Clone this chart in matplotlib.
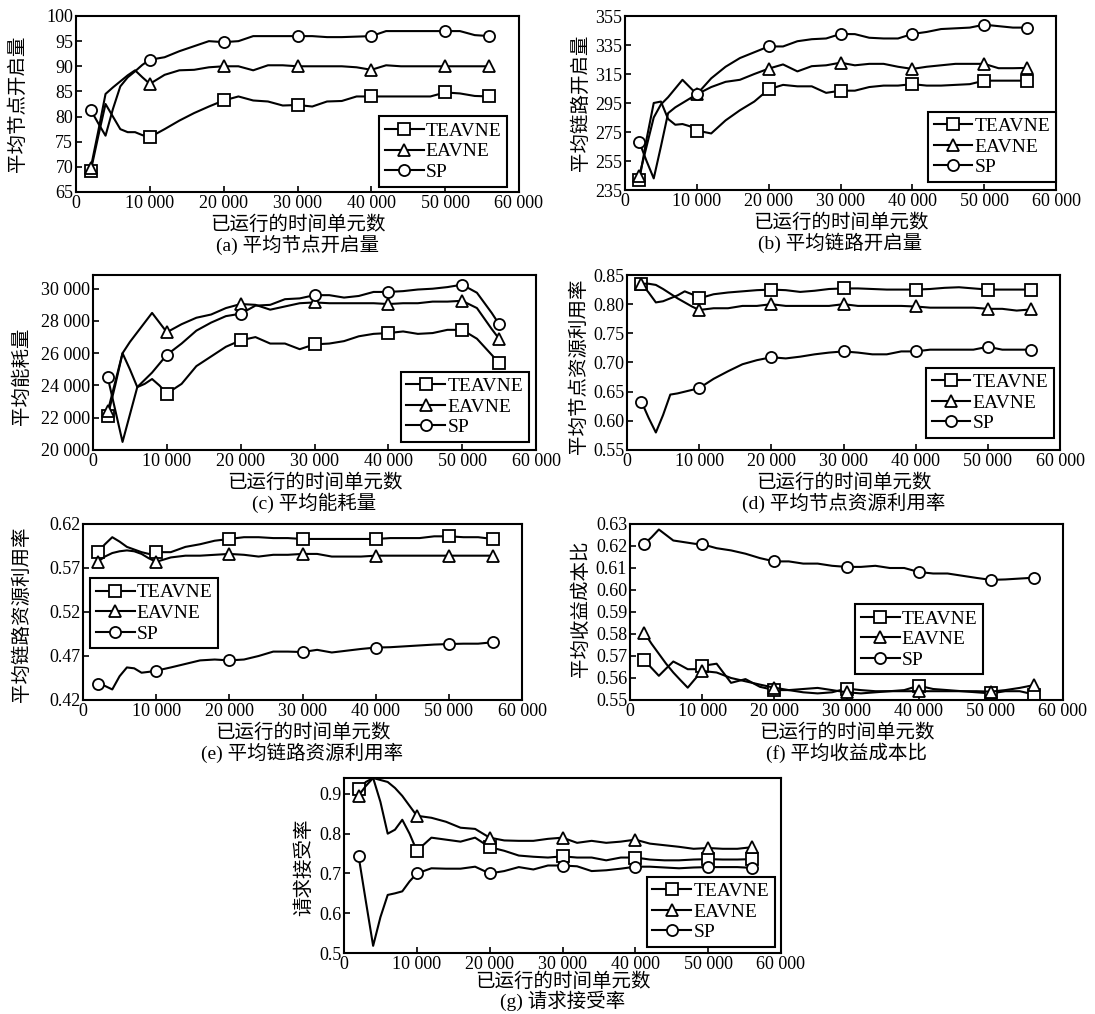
import matplotlib
matplotlib.use("Agg")
import matplotlib.pyplot as plt
from matplotlib.ticker import FuncFormatter

plt.rcParams['font.family'] = ['Liberation Serif', 'Noto Sans CJK SC']
plt.rcParams['axes.unicode_minus'] = False

# 已运行的时间单元数（横轴）
x_run = [2000, 3000, 4000, 5000, 6000, 7000, 8000, 9000, 10000, 12000, 14000, 16000,
         18000, 20000, 22000, 24000, 26000, 28000, 30000, 32000, 34000, 36000, 38000,
         40000, 42000, 44000, 46000, 48000, 50000, 52000, 54000, 56000]
x_run_c = [2000, 3000, 4000, 5000, 6000, 7000, 8000, 9000, 10000, 12000, 14000, 16000,
           18000, 20000, 22000, 24000, 26000, 28000, 30000, 32000, 34000, 36000, 38000,
           40000, 42000, 44000, 46000, 48000, 50000, 52000, 54000, 55000]
mark_idx = [0, 8, 13, 18, 23, 28, 31]
algos = ['TEAVNE', 'EAVNE', 'SP']
x_ticks = [0, 10000, 20000, 30000, 40000, 50000, 60000]

# (a) 平均节点开启量
a_teavne = [69.2, 76, 82.5, 80, 77.5, 76.9, 76.9, 76.3, 75.9, 77.5, 79.2, 80.7, 82, 83.2, 84,
            83.2, 83, 82.2, 82.3, 82, 83, 83.1, 84, 84, 84, 84, 84, 84, 84.8, 84.6, 84.1, 84]
a_eavne = [69.8, 77, 84.5, 85.8, 87, 88.2, 89.2, 87.8, 86.5, 88.3, 89.2, 89.3, 89.8, 90, 90,
           89.2, 90.2, 90.2, 90, 90, 90, 90, 89.8, 89.3, 90.2, 90, 90, 90, 90, 90, 90, 90]
a_sp = [81.3, 78.7, 76.2, 81.5, 86, 87.8, 89, 90.3, 91.3, 91.8, 93, 94, 95, 94.8, 95, 96,
        96, 96, 96, 96, 95.8, 95.8, 95.9, 96, 97, 97, 97, 97, 97, 97, 96.2, 96]

# (b) 平均链路开启量
b_teavne = [242, 270, 295, 296, 284, 280, 280.5, 279, 276, 274, 283, 290, 296, 304.4, 307.5,
            306.5, 306.5, 302, 303.5, 303.5, 306, 307, 307, 308, 307, 307, 307.5, 308, 310.4,
            310.4, 310.4, 310.4]
b_eavne = [245, 265, 285, 294, 299, 305, 311, 306, 301, 306, 309.6, 311, 315, 318.7, 321.6,
           316.8, 320.4, 321, 322.8, 321, 322, 322, 320, 318.5, 320, 321, 322, 322, 322, 319,
           319, 319.2]
b_sp = [268, 255, 243, 265, 288, 292, 295, 298, 301, 312, 320, 326, 330, 334, 334, 337.6,
        339, 339.5, 342.6, 342.5, 340, 339.5, 339.5, 342.6, 344, 346, 346.5, 347, 349, 348,
        347, 347]

# (c) 平均能耗量
c_teavne = [22100, 24000, 26000, 25000, 23900, 24100, 24400, 24000, 23500, 24100, 25200,
            25800, 26400, 26800, 27000, 26600, 26600, 26250, 26550, 26600, 26750, 27050,
            27200, 27250, 27350, 27200, 27250, 27450, 27450, 26900, 25900, 25400]
c_eavne = [22400, 24200, 26000, 26700, 27300, 27900, 28500, 27900, 27300, 27800, 28200,
           28400, 28800, 29050, 29000, 28700, 28900, 29100, 29150, 29100, 29100, 29100,
           29100, 29050, 29100, 29100, 29200, 29200, 29250, 28800, 27500, 26900]
c_sp = [24500, 22500, 20500, 22200, 23900, 24350, 24800, 25350, 25900, 26600, 27400, 27900,
        28300, 28450, 28950, 29000, 29350, 29400, 29600, 29600, 29450, 29550, 29800, 29800,
        29850, 29950, 30000, 30100, 30250, 29750, 28500, 27800]

# (d) 平均节点资源利用率
d_teavne = [0.835, 0.82, 0.803, 0.805, 0.81, 0.815, 0.822, 0.817, 0.81, 0.817, 0.82, 0.822,
            0.824, 0.825, 0.824, 0.821, 0.823, 0.826, 0.827, 0.827, 0.826, 0.825, 0.825,
            0.825, 0.826, 0.828, 0.829, 0.827, 0.825, 0.825, 0.825, 0.825]
d_eavne = [0.835, 0.835, 0.833, 0.826, 0.818, 0.81, 0.803, 0.796, 0.79, 0.793, 0.793, 0.797,
           0.797, 0.80, 0.797, 0.797, 0.797, 0.797, 0.80, 0.797, 0.797, 0.797, 0.797, 0.796,
           0.794, 0.794, 0.794, 0.794, 0.792, 0.792, 0.789, 0.791]
d_sp = [0.633, 0.605, 0.58, 0.61, 0.645, 0.647, 0.65, 0.653, 0.656, 0.672, 0.685, 0.697,
        0.704, 0.709, 0.707, 0.71, 0.714, 0.717, 0.719, 0.717, 0.714, 0.714, 0.719, 0.719,
        0.722, 0.722, 0.722, 0.722, 0.727, 0.722, 0.722, 0.722]

# (e) 平均链路资源利用率
e_teavne = [0.588, 0.597, 0.605, 0.600, 0.594, 0.591, 0.588, 0.586, 0.588, 0.588, 0.594,
            0.597, 0.601, 0.603, 0.605, 0.605, 0.604, 0.604, 0.603, 0.603, 0.603, 0.603,
            0.603, 0.603, 0.604, 0.604, 0.604, 0.606, 0.606, 0.605, 0.605, 0.603]
e_eavne = [0.577, 0.583, 0.587, 0.589, 0.590, 0.589, 0.586, 0.581, 0.577, 0.582, 0.584,
           0.584, 0.585, 0.586, 0.585, 0.583, 0.585, 0.585, 0.586, 0.586, 0.583, 0.583,
           0.583, 0.584, 0.584, 0.584, 0.584, 0.584, 0.584, 0.584, 0.584, 0.584]
e_sp = [0.4387, 0.436, 0.432, 0.447, 0.457, 0.456, 0.451, 0.452, 0.4533, 0.457, 0.461,
        0.465, 0.466, 0.465, 0.466, 0.470, 0.475, 0.475, 0.4745, 0.477, 0.474, 0.476,
        0.478, 0.4796, 0.480, 0.481, 0.482, 0.483, 0.4836, 0.484, 0.484, 0.4856]

# (f) 平均收益成本比
f_teavne = [0.568, 0.5645, 0.561, 0.5643, 0.5675, 0.5658, 0.564, 0.564, 0.5655, 0.5665,
            0.5578, 0.5595, 0.556, 0.5545, 0.5545, 0.5535, 0.553, 0.5535, 0.5552, 0.5545,
            0.554, 0.554, 0.5545, 0.5565, 0.555, 0.5545, 0.554, 0.5535, 0.553, 0.554, 0.554,
            0.5525]
f_eavne = [0.5805, 0.5755, 0.571, 0.5665, 0.5625, 0.559, 0.5556, 0.5595, 0.5632, 0.5625,
           0.560, 0.5585, 0.557, 0.5556, 0.5545, 0.555, 0.5555, 0.5545, 0.5535, 0.553,
           0.5535, 0.554, 0.554, 0.554, 0.554, 0.554, 0.554, 0.554, 0.5538, 0.5545, 0.5555,
           0.5568]
f_sp = [0.621, 0.624, 0.6275, 0.625, 0.6225, 0.622, 0.6215, 0.621, 0.6208, 0.619, 0.618,
        0.6165, 0.6145, 0.613, 0.613, 0.612, 0.612, 0.611, 0.6105, 0.6105, 0.611, 0.610,
        0.610, 0.6082, 0.6075, 0.6075, 0.6065, 0.6055, 0.6046, 0.6048, 0.6052, 0.6056]

# (g) 请求接受率
g_teavne = [0.912, 0.93, 0.94, 0.88, 0.80, 0.81, 0.835, 0.80, 0.757, 0.79, 0.785, 0.78,
            0.79, 0.766, 0.757, 0.745, 0.742, 0.74, 0.743, 0.74, 0.74, 0.733, 0.74, 0.74,
            0.735, 0.733, 0.733, 0.735, 0.736, 0.735, 0.735, 0.736]
g_eavne = [0.896, 0.92, 0.94, 0.935, 0.93, 0.915, 0.895, 0.87, 0.845, 0.84, 0.83, 0.815,
           0.812, 0.79, 0.783, 0.782, 0.782, 0.787, 0.79, 0.777, 0.782, 0.777, 0.78, 0.785,
           0.775, 0.771, 0.767, 0.762, 0.764, 0.762, 0.762, 0.766]
g_sp = [0.744, 0.63, 0.518, 0.59, 0.646, 0.65, 0.655, 0.68, 0.70, 0.713, 0.712, 0.712,
        0.717, 0.70, 0.706, 0.716, 0.71, 0.72, 0.72, 0.718, 0.706, 0.708, 0.712, 0.717,
        0.717, 0.715, 0.713, 0.715, 0.716, 0.716, 0.716, 0.714]

W, H = 1095, 1014
fig = plt.figure(figsize=(W / 100, H / 100), dpi=100)


def px_axes(left, right, top, bottom):
    return fig.add_axes([left / W, 1 - bottom / H, (right - left) / W, (bottom - top) / H])


def space_fmt(v, pos):
    return '{:,.0f}'.format(v).replace(',', ' ')


def draw(ax, xs, series, ylim, yticks, yfmt, ylabel, ylab_xy, caption, leg_loc, leg_anchor,
         xlab_off=-33, cap_off=-53):
    for ys, name, mk in zip(series, algos, ['s', '^', 'o']):
        ax.plot(xs, ys, color='black', lw=1.5, marker=mk, markevery=mark_idx,
                markersize=8, mfc='white', mec='black', mew=1.3, label=name)
    ax.set_xlim(0, 60000)
    ax.set_ylim(*ylim)
    ax.set_xticks(x_ticks)
    ax.set_yticks(yticks)
    ax.xaxis.set_major_formatter(FuncFormatter(space_fmt))
    ax.yaxis.set_major_formatter(yfmt)
    ax.tick_params(direction='in', length=4, width=1.2, labelsize=13, pad=2)
    for s in ax.spines.values():
        s.set_linewidth(1.5)
    ax.set_ylabel(ylabel, fontsize=14)
    ax.yaxis.set_label_coords(*ylab_xy)
    ax.annotate('已运行的时间单元数', xy=(0.5, 0), xycoords='axes fraction',
                xytext=(0, xlab_off), textcoords='offset pixels', ha='center', va='center',
                fontsize=14)
    ax.annotate(caption, xy=(0.5, 0), xycoords='axes fraction',
                xytext=(0, cap_off), textcoords='offset pixels', ha='center', va='center',
                fontsize=14)
    leg = ax.legend(loc=leg_loc, bbox_to_anchor=leg_anchor, fontsize=14, frameon=True,
                    fancybox=False, edgecolor='black', framealpha=1, borderpad=0.3,
                    labelspacing=0.15, handlelength=2.0, handletextpad=0.1,
                    borderaxespad=0)
    leg.get_frame().set_linewidth(1.5)


ax_a = px_axes(76, 519, 16, 192)
draw(ax_a, x_run, [a_teavne, a_eavne, a_sp], (65, 100), [65, 70, 75, 80, 85, 90, 95, 100],
     FuncFormatter(lambda v, p: '%d' % v), '平均节点开启量', (-0.111, 0.5),
     '(a) 平均节点开启量', 'lower right', (0.973, 0.03))

ax_b = px_axes(625, 1056, 16, 190)
draw(ax_b, x_run, [b_teavne, b_eavne, b_sp], (235, 355), [235, 255, 275, 295, 315, 335, 355],
     FuncFormatter(lambda v, p: '%d' % v), '平均链路开启量', (-0.081, 0.5),
     '(b) 平均链路开启量', 'lower right', (1.0, 0.046))

ax_c = px_axes(93, 536, 275, 450)
draw(ax_c, x_run_c, [c_teavne, c_eavne, c_sp], (20000, 30850),
     [20000, 22000, 24000, 26000, 28000, 30000], FuncFormatter(space_fmt), '平均能耗量',
     (-0.14, 0.42), '(c) 平均能耗量', 'lower right', (0.984, 0.046))

ax_d = px_axes(627, 1060, 275, 450)
draw(ax_d, x_run, [d_teavne, d_eavne, d_sp], (0.55, 0.85),
     [0.55, 0.60, 0.65, 0.70, 0.75, 0.80, 0.85], FuncFormatter(lambda v, p: '%.2f' % v),
     '平均节点资源利用率', (-0.09, 0.48), '(d) 平均节点资源利用率', 'lower right',
     (0.986, 0.069))

ax_e = px_axes(83, 522, 524, 700)
draw(ax_e, x_run, [e_teavne, e_eavne, e_sp], (0.42, 0.62), [0.42, 0.47, 0.52, 0.57, 0.62],
     FuncFormatter(lambda v, p: '%.2f' % v), '平均链路资源利用率', (-0.118, 0.49),
     '(e) 平均链路资源利用率', 'upper left', (0.016, 0.693))

ax_f = px_axes(630, 1063, 524, 700)
draw(ax_f, x_run, [f_teavne, f_eavne, f_sp], (0.55, 0.63),
     [0.55, 0.56, 0.57, 0.58, 0.59, 0.60, 0.61, 0.62, 0.63],
     FuncFormatter(lambda v, p: '%.2f' % v), '平均收益成本比', (-0.092, 0.52),
     '(f) 平均收益成本比', 'upper left', (0.52, 0.545))

ax_g = px_axes(344, 781, 778, 953)
draw(ax_g, x_run, [g_teavne, g_eavne, g_sp], (0.5, 0.94), [0.5, 0.6, 0.7, 0.8, 0.9],
     FuncFormatter(lambda v, p: '%.1f' % v), '请求接受率', (-0.071, 0.49),
     '(g) 请求接受率', 'lower right', (0.986, 0.034), xlab_off=-29, cap_off=-48)

fig.savefig('out.png', dpi=100, facecolor='white')
